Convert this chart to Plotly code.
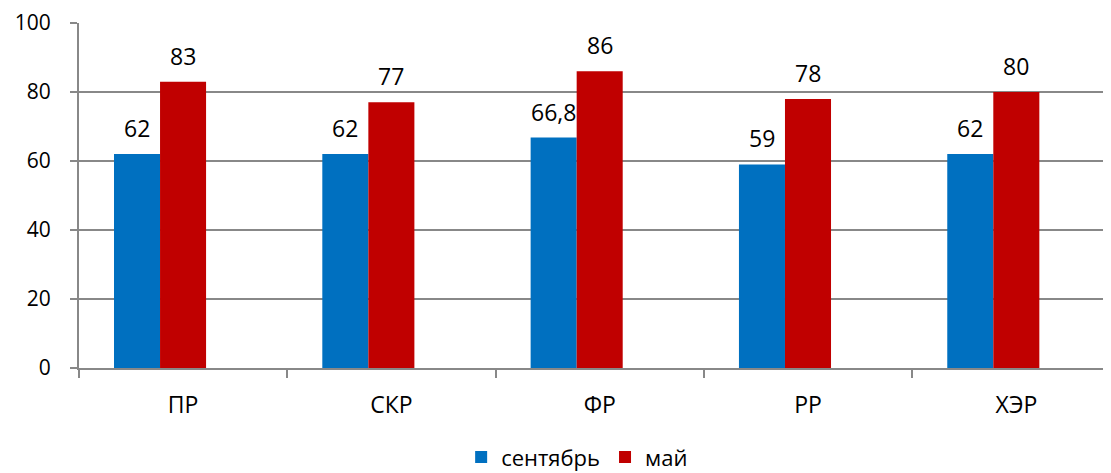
import plotly.graph_objects as go

categories = ["ПР", "СКР", "ФР", "РР", "ХЭР"]
sept = [62, 62, 66.8, 59, 62]
may = [83, 77, 86, 78, 80]
series_names = ["сентябрь", "май"]
colors = ["#0070C0", "#C00000"]
y_ticks = [0, 20, 40, 60, 80, 100]

FONT = "Open Sans"
BAR_W = 0.221
OFFSETS = [-0.332, -0.111]

def fmt(v):
    s = f"{v:g}"
    return s.replace(".", ",")

fig = go.Figure()
for name, vals, col, off in zip(series_names, [sept, may], colors, OFFSETS):
    fig.add_trace(go.Bar(
        x=categories, y=vals, name=name, marker_color=col,
        marker_line_width=0, width=BAR_W, offset=off,
    ))

# data labels
for vals, off in zip([sept, may], OFFSETS):
    for j, v in enumerate(vals):
        fig.add_annotation(
            x=j + off + BAR_W / 2, y=v, xref="x", yref="y",
            text=fmt(v), showarrow=False, yshift=26,
            font=dict(family=FONT, size=23, color="#000"),
        )

# page body has an 8px default margin: the figure starts at (8, 8) in the window
fig.update_layout(
    width=1103, height=465,
    margin=dict(l=71, r=0, t=15, b=105, autoexpand=False),
    paper_bgcolor="white", plot_bgcolor="white",
    barmode="overlay",
    font=dict(family=FONT, size=20, color="#000"),
    legend=dict(orientation="h", xref="container", yref="container",
                x=0.516, xanchor="center", y=0.034, yanchor="middle",
                font=dict(family=FONT, size=22), traceorder="normal",
                itemwidth=30),
    showlegend=True,
)
fig.update_xaxes(
    range=[-0.5, 4.454], automargin=False,
    showline=True, linecolor="#888", linewidth=2,
    ticks="outside", tickson="boundaries", ticklen=8, tickcolor="#888", tickwidth=2,
    ticklabelstandoff=15, tickfont=dict(family=FONT, size=23),
    showgrid=False, ticklabeloverflow="allow",
)
fig.update_yaxes(
    range=[0, 100], tickvals=y_ticks, automargin=False,
    showline=True, linecolor="#888", linewidth=2,
    ticks="outside", ticklen=7, tickcolor="#888", tickwidth=2,
    ticklabelstandoff=15, ticklabeloverflow="allow",
    showgrid=True, gridcolor="#888", gridwidth=1.6,
    tickfont=dict(family=FONT, size=21), zeroline=False,
)

fig.write_html("out.html")
